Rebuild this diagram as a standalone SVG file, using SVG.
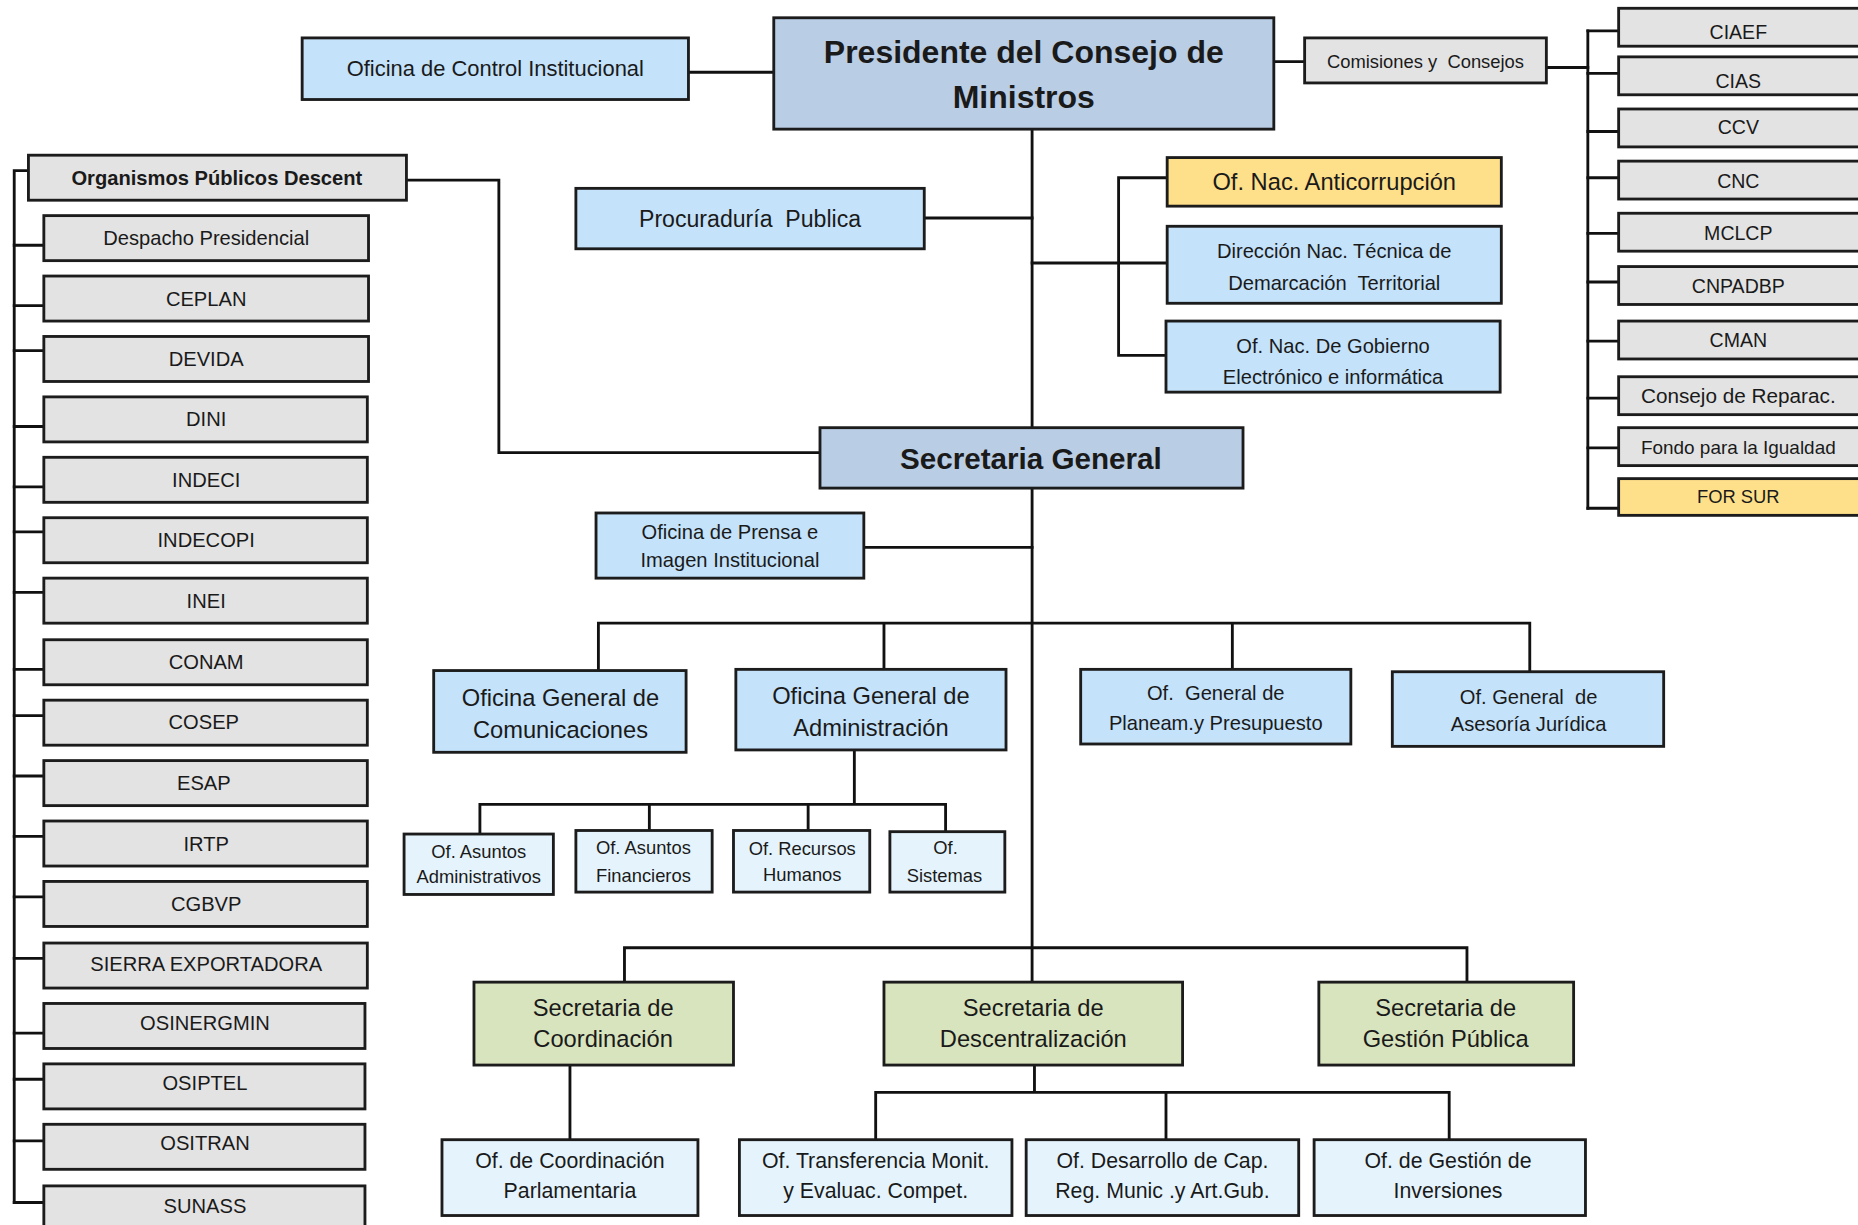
<svg xmlns="http://www.w3.org/2000/svg" width="1858" height="1225" viewBox="0 0 1858 1225">
<style>
.b{stroke:#1c1c1c;stroke-width:2.4}
.pres{fill:#B9CDE5}
.lb{fill:#C4E2FA}
.xb{fill:#E5F4FC}
.gr{fill:#E3E3E3}
.ye{fill:#FFE08A}
.gn{fill:#D8E4BD}
text{font-family:"Liberation Sans",Arial,sans-serif;fill:#1a1a1a;text-anchor:middle}
.bold{font-weight:bold}
.ln{fill:none;stroke:#111;stroke-width:2.4;stroke-linecap:square}
</style>
<rect width="1858" height="1225" fill="#fff"/>
<g transform="scale(1.18495 1.18472)">
<g id="connectors" class="ln">
<path d="M581,61 H653"/>
<path d="M1075,52 H1101"/>
<path d="M1305,57 H1340"/>
<path d="M1340,26 V429"/>
<path d="M1340,26 H1366 M1340,62 H1366 M1340,111 H1366 M1340,150 H1366 M1340,197 H1366 M1340,238 H1366 M1340,288 H1366 M1340,336 H1366 M1340,378 H1366 M1340,429 H1366"/>
<path d="M871,109 V361"/>
<path d="M871,412 V830"/>
<path d="M780,184 H871"/>
<path d="M871,222 H944 M944,150 V300 M944,150 H985 M944,222 H985 M944,300 H984"/>
<path d="M343,152 H421 V382 H692"/>
<path d="M12,144 V1015 M12,144 H24"/>
<path d="M12,207 H37 M12,258 H37 M12,296 H37 M12,360 H37 M12,411 H37 M12,449 H37 M12,500 H37 M12,565 H37 M12,604 H37 M12,655 H37 M12,706 H37 M12,757 H37 M12,809 H37 M12,872 H37 M12,911 H37 M12,963 H37 M12,1015 H37"/>
<path d="M729,462 H871"/>
<path d="M505,526 H1291 M505,526 V566 M746,526 V565 M1040,526 V565 M1291,526 V567"/>
<path d="M721,634 V679 M405,679 H798 M405,679 V704 M548,679 V701 M682,679 V701 M798,679 V702"/>
<path d="M527,800 H1238 M527,800 V830 M1238,800 V830"/>
<path d="M481,900 V962"/>
<path d="M873,900 V922 M739,922 H1223 M739,922 V962 M984,922 V963 M1223,922 V963"/>
</g>

<g id="n-oci"><rect class="b lb" x="255" y="32" width="326" height="52"/><text x="418" y="64.5" font-size="18.5">Oficina de Control Institucional</text></g>
<g id="n-pres"><rect class="b pres" x="653" y="15" width="422" height="94"/><text class="bold" x="864" y="53" font-size="27">Presidente del Consejo de</text><text class="bold" x="864" y="91" font-size="27">Ministros</text></g>
<g id="n-com"><rect class="b gr" x="1101" y="32" width="204" height="38"/><text x="1203" y="57" font-size="15.5" xml:space="preserve">Comisiones y  Consejos</text></g>

<g id="n-ciaef"><rect class="b gr" x="1366" y="7" width="220" height="32"/><text x="1467" y="33" font-size="16.5">CIAEF</text></g>
<g id="n-cias"><rect class="b gr" x="1366" y="48" width="220" height="32"/><text x="1467" y="74" font-size="16.5">CIAS</text></g>
<g id="n-ccv"><rect class="b gr" x="1366" y="92" width="220" height="32"/><text x="1467" y="113.5" font-size="16.5">CCV</text></g>
<g id="n-cnc"><rect class="b gr" x="1366" y="136" width="220" height="32"/><text x="1467" y="159" font-size="16.5">CNC</text></g>
<g id="n-mclcp"><rect class="b gr" x="1366" y="180" width="220" height="32"/><text x="1467" y="202.5" font-size="16.5">MCLCP</text></g>
<g id="n-cnpadbp"><rect class="b gr" x="1366" y="225" width="220" height="32"/><text x="1467" y="247" font-size="16.5">CNPADBP</text></g>
<g id="n-cman"><rect class="b gr" x="1366" y="271" width="220" height="32"/><text x="1467" y="292.5" font-size="16.5">CMAN</text></g>
<g id="n-reparac"><rect class="b gr" x="1366" y="318" width="220" height="32"/><text x="1467" y="340.5" font-size="17.5">Consejo de Reparac.</text></g>
<g id="n-fondo"><rect class="b gr" x="1366" y="361" width="220" height="32"/><text x="1467" y="383" font-size="16">Fondo para la Igualdad</text></g>
<g id="n-forsur"><rect class="b ye" x="1366" y="404" width="220" height="31"/><text x="1467" y="424.5" font-size="15.5">FOR SUR</text></g>

<g id="n-proc"><rect class="b lb" x="486" y="159" width="294" height="51"/><text x="633" y="191.5" font-size="19.5" xml:space="preserve">Procuraduría  Publica</text></g>
<g id="n-anti"><rect class="b ye" x="985" y="133" width="282" height="41"/><text x="1126" y="160.5" font-size="20">Of. Nac. Anticorrupción</text></g>
<g id="n-dir"><rect class="b lb" x="985" y="191" width="282" height="65"/><text x="1126" y="218" font-size="17">Dirección Nac. Técnica de</text><text x="1126" y="245" font-size="17" xml:space="preserve">Demarcación  Territorial</text></g>
<g id="n-gob"><rect class="b lb" x="984" y="271" width="282" height="60"/><text x="1125" y="298" font-size="17">Of. Nac. De Gobierno</text><text x="1125" y="324" font-size="17">Electrónico e informática</text></g>

<g id="n-org"><rect class="b gr" x="24" y="131" width="319" height="38"/><text class="bold" x="183" y="156" font-size="17">Organismos Públicos Descent</text></g>
<g id="n-despacho"><rect class="b gr" x="37" y="182" width="274" height="38"/><text x="174" y="207" font-size="17">Despacho Presidencial</text></g>
<g id="n-ceplan"><rect class="b gr" x="37" y="233" width="274" height="38"/><text x="174" y="258" font-size="17">CEPLAN</text></g>
<g id="n-devida"><rect class="b gr" x="37" y="284" width="274" height="38"/><text x="174" y="309" font-size="17">DEVIDA</text></g>
<g id="n-dini"><rect class="b gr" x="37" y="335" width="273" height="38"/><text x="174" y="360" font-size="17">DINI</text></g>
<g id="n-indeci"><rect class="b gr" x="37" y="386" width="273" height="38"/><text x="174" y="411" font-size="17">INDECI</text></g>
<g id="n-indecopi"><rect class="b gr" x="37" y="437" width="273" height="38"/><text x="174" y="462" font-size="17">INDECOPI</text></g>
<g id="n-inei"><rect class="b gr" x="37" y="488" width="273" height="38"/><text x="174" y="513" font-size="17">INEI</text></g>
<g id="n-conam"><rect class="b gr" x="37" y="540" width="273" height="38"/><text x="174" y="565" font-size="17">CONAM</text></g>
<g id="n-cosep"><rect class="b gr" x="37" y="591" width="273" height="38"/><text x="172" y="615" font-size="17">COSEP</text></g>
<g id="n-esap"><rect class="b gr" x="37" y="642" width="273" height="38"/><text x="172" y="667" font-size="17">ESAP</text></g>
<g id="n-irtp"><rect class="b gr" x="37" y="693" width="273" height="38"/><text x="174" y="718" font-size="17">IRTP</text></g>
<g id="n-cgbvp"><rect class="b gr" x="37" y="744" width="273" height="38"/><text x="174" y="769" font-size="17">CGBVP</text></g>
<g id="n-sierra"><rect class="b gr" x="37" y="796" width="273" height="38"/><text x="174" y="820" font-size="17">SIERRA EXPORTADORA</text></g>
<g id="n-osinergmin"><rect class="b gr" x="37" y="847" width="271" height="38"/><text x="173" y="869" font-size="17">OSINERGMIN</text></g>
<g id="n-osiptel"><rect class="b gr" x="37" y="898" width="271" height="38"/><text x="173" y="920" font-size="17">OSIPTEL</text></g>
<g id="n-ositran"><rect class="b gr" x="37" y="949" width="271" height="38"/><text x="173" y="971" font-size="17">OSITRAN</text></g>
<g id="n-sunass"><rect class="b gr" x="37" y="1001" width="271" height="38"/><text x="173" y="1024" font-size="17">SUNASS</text></g>

<g id="n-sg"><rect class="b pres" x="692" y="361" width="357" height="51"/><text class="bold" x="870" y="395.5" font-size="25">Secretaria General</text></g>
<g id="n-prensa"><rect class="b lb" x="503" y="433" width="226" height="55"/><text x="616" y="455" font-size="17">Oficina de Prensa e</text><text x="616" y="479" font-size="17">Imagen Institucional</text></g>

<g id="n-ogcom"><rect class="b lb" x="366" y="566" width="213" height="69"/><text x="473" y="596" font-size="20">Oficina General de</text><text x="473" y="623" font-size="20">Comunicaciones</text></g>
<g id="n-oga"><rect class="b lb" x="621" y="565" width="228" height="68"/><text x="735" y="594" font-size="20">Oficina General de</text><text x="735" y="621" font-size="20">Administración</text></g>
<g id="n-ogpp"><rect class="b lb" x="912" y="565" width="228" height="63"/><text x="1026" y="591" font-size="17" xml:space="preserve">Of.  General de</text><text x="1026" y="616" font-size="17">Planeam.y Presupuesto</text></g>
<g id="n-ogaj"><rect class="b lb" x="1175" y="567" width="229" height="63"/><text x="1290" y="594" font-size="17" xml:space="preserve">Of. General  de</text><text x="1290" y="617" font-size="17">Asesoría Jurídica</text></g>

<g id="n-oaa"><rect class="b xb" x="341" y="704" width="126" height="51"/><text x="404" y="724.5" font-size="15.5">Of. Asuntos</text><text x="404" y="745.5" font-size="15.5">Administrativos</text></g>
<g id="n-oaf"><rect class="b xb" x="486" y="701" width="115" height="52"/><text x="543" y="720.5" font-size="15.5">Of. Asuntos</text><text x="543" y="744.5" font-size="15.5">Financieros</text></g>
<g id="n-orh"><rect class="b xb" x="619" y="701" width="115" height="52"/><text x="677" y="721.5" font-size="15.5">Of. Recursos</text><text x="677" y="743.5" font-size="15.5">Humanos</text></g>
<g id="n-osis"><rect class="b xb" x="751" y="702" width="97" height="51"/><text x="798" y="720.5" font-size="15.5">Of.</text><text x="797" y="744.5" font-size="15.5">Sistemas</text></g>

<g id="n-scoord"><rect class="b gn" x="400" y="829" width="219" height="70"/><text x="509" y="858" font-size="20">Secretaria de</text><text x="509" y="884" font-size="20">Coordinación</text></g>
<g id="n-sdesc"><rect class="b gn" x="746" y="829" width="252" height="70"/><text x="872" y="858" font-size="20">Secretaria de</text><text x="872" y="884" font-size="20">Descentralización</text></g>
<g id="n-sgp"><rect class="b gn" x="1113" y="829" width="215" height="70"/><text x="1220" y="858" font-size="20">Secretaria de</text><text x="1220" y="884" font-size="20">Gestión Pública</text></g>

<g id="n-ocp"><rect class="b xb" x="373" y="962" width="216" height="64"/><text x="481" y="986" font-size="18">Of. de Coordinación</text><text x="481" y="1011" font-size="18">Parlamentaria</text></g>
<g id="n-otm"><rect class="b xb" x="624" y="962" width="230" height="64"/><text x="739" y="986" font-size="18">Of. Transferencia Monit.</text><text x="739" y="1011" font-size="18">y Evaluac. Compet.</text></g>
<g id="n-odc"><rect class="b xb" x="866" y="962" width="230" height="64"/><text x="981" y="986" font-size="18">Of. Desarrollo de Cap.</text><text x="981" y="1011" font-size="18">Reg. Munic .y Art.Gub.</text></g>
<g id="n-ogi"><rect class="b xb" x="1109" y="962" width="229" height="64"/><text x="1222" y="986" font-size="18">Of. de Gestión de</text><text x="1222" y="1011" font-size="18">Inversiones</text></g>
</g>
</svg>
